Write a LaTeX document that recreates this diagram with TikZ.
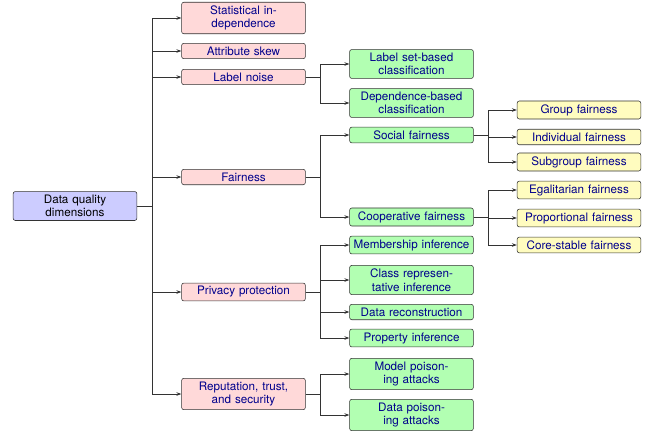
\documentclass[tikz,border=0pt]{standalone}
\usepackage{fontspec}
\setmainfont{TeX Gyre Heros}
\usepackage{tikz}
\usetikzlibrary{arrows.meta}
\usetikzlibrary{positioning}
\usepackage{xcolor}

\begin{document}
\begin{tikzpicture}[x=0.025cm,y=-0.025cm,
  box/.style={draw=black!80,rounded corners=1.5pt,align=center,text width=3.02cm,
    inner xsep=1pt,inner ysep=2.4pt,font=\fontsize{8.3}{9.6}\selectfont,text=blue!55!black},
  dim/.style={box,fill=red!15},
  sub/.style={box,fill=green!30},
  leaf/.style={box,fill=yellow!25},
  rootbox/.style={box,fill=blue!20,text=black},
  edge/.style={draw=black!80,line width=0.6pt,-{Stealth[length=3.5pt,width=2.5pt]}}]
\useasboundingbox (0,0) rectangle (651,434);
% root
\node[rootbox] (root) at (75,206) {Data quality\\dimensions};
% dimensions
\node[dim] (sta) at (243.5,18) {Statistical in-\\dependence};
\node[dim] (att) at (243.5,51) {Attribute skew};
\node[dim] (lab) at (243.5,77) {Label noise};
\node[dim] (fai) at (243.5,177) {Fairness};
\node[dim] (pri) at (243.5,292) {Privacy protection};
\node[dim] (rep) at (243.5,394) {Reputation, trust,\\and security};
% second level
\node[sub] (lsb) at (411.5,64) {Label set-based\\classification};
\node[sub] (dbc) at (411.5,103) {Dependence-based\\classification};
\node[sub] (soc) at (411.5,135) {Social fairness};
\node[sub] (coo) at (411.5,217) {Cooperative fairness};
\node[sub] (mem) at (411.5,245) {Membership inference};
\node[sub] (cri) at (411.5,280) {Class represen-\\tative inference};
\node[sub] (rec) at (411.5,312) {Data reconstruction};
\node[sub] (pro) at (411.5,338) {Property inference};
\node[sub] (mpa) at (411.5,374) {Model poison-\\ing attacks};
\node[sub] (dpa) at (411.5,415) {Data poison-\\ing attacks};
% third level
\node[leaf] (grp) at (579,110) {Group fairness};
\node[leaf] (ind) at (579,137) {Individual fairness};
\node[leaf] (sgr) at (579,162) {Subgroup fairness};
\node[leaf] (ega) at (579,190) {Egalitarian fairness};
\node[leaf] (prp) at (579,218) {Proportional fairness};
\node[leaf] (cst) at (579,245) {Core-stable fairness};
% forks
\foreach \c in {sta,att,lab,fai,pri,rep}
  \draw[edge] (root.east) -- ++(15,0) |- (\c.west);
\foreach \c in {lsb,dbc}
  \draw[edge] (lab.east) -- ++(15,0) |- (\c.west);
\foreach \c in {soc,coo}
  \draw[edge] (fai.east) -- ++(15,0) |- (\c.west);
\foreach \c in {mem,cri,rec,pro}
  \draw[edge] (pri.east) -- ++(15,0) |- (\c.west);
\foreach \c in {mpa,dpa}
  \draw[edge] (rep.east) -- ++(15,0) |- (\c.west);
\foreach \c in {grp,ind,sgr}
  \draw[edge] (soc.east) -- ++(15,0) |- (\c.west);
\foreach \c in {ega,prp,cst}
  \draw[edge] (coo.east) -- ++(15,0) |- (\c.west);
\end{tikzpicture}
\end{document}
